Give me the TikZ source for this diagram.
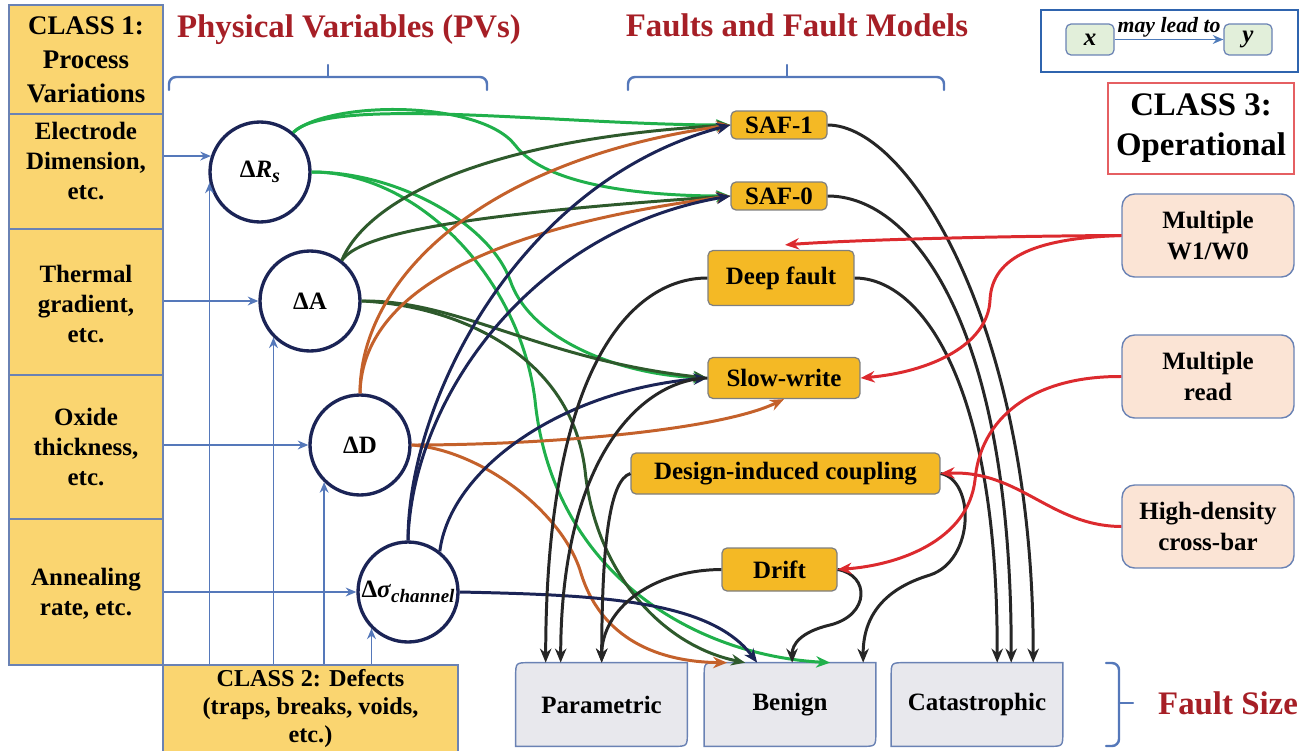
\documentclass[tikz,border=0pt]{standalone}
\usepackage{fontspec}
\setmainfont{Liberation Serif}[BoldFont={Liberation Serif Bold}, ItalicFont={Liberation Serif Italic}, BoldItalicFont={Liberation Serif Bold Italic}]
\usetikzlibrary{arrows.meta,calc}
\pgfdeclarelayer{background}
\pgfsetlayers{background,main}

\definecolor{gold}{HTML}{F4B925}
\definecolor{lightgold}{HTML}{FAD570}
\definecolor{boxedge}{HTML}{6A82B4}
\definecolor{grayfill}{HTML}{E8E8ED}
\definecolor{peach}{HTML}{FBE4D5}
\definecolor{titlered}{HTML}{A61F26}
\definecolor{linkred}{HTML}{DC2A2E}
\definecolor{pvgreen}{HTML}{20B04B}
\definecolor{pvdark}{HTML}{2E5A2C}
\definecolor{pvorange}{HTML}{C4612B}
\definecolor{pvnavy}{HTML}{1B2456}
\definecolor{linkblack}{HTML}{262626}
\definecolor{linkblue}{HTML}{5578BA}
\definecolor{legendblue}{HTML}{2F64AE}
\definecolor{legendfill}{HTML}{E2EFDA}
\definecolor{faultedge}{HTML}{7F7F7F}

\newcommand\fsTitle{\fontsize{18.7pt}{22pt}\selectfont}
\newcommand\fsHead{\fontsize{15.3pt}{19.3pt}\selectfont}
\newcommand\fsRow{\fontsize{14.2pt}{17.3pt}\selectfont}
\newcommand\fsDefect{\fontsize{13.8pt}{15.9pt}\selectfont}
\newcommand\fsOper{\fontsize{18.7pt}{22.7pt}\selectfont}
\newcommand\fsNote{\fontsize{12.4pt}{14pt}\selectfont}

\begin{document}
\begin{tikzpicture}[x=0.02cm,y=-0.02cm,
  c1box/.style={draw=boxedge, line width=0.8pt, fill=lightgold, minimum width=3.08cm, inner sep=0pt},
  rowtext/.style={align=center, font=\fsRow\bfseries, inner sep=0pt},
  fault/.style={draw=faultedge, line width=0.7pt, fill=gold, rounded corners=0.1cm, font=\fsRow\bfseries, inner sep=0pt},
  pv/.style={circle, draw=pvnavy, line width=1.9pt, minimum size=2cm, inner sep=0pt, fill=white, font=\fsRow\bfseries},
  oper/.style={draw=boxedge, line width=0.8pt, fill=peach, rounded corners=0.25cm, minimum width=3.44cm, minimum height=1.66cm, align=center, font=\fsRow\bfseries, inner sep=0pt},
  sizebox/.style={font=\fsRow\bfseries, minimum width=3.42cm, minimum height=1.66cm, inner sep=0pt},
  sizeedge/.style={draw=boxedge, line width=0.8pt, fill=grayfill},
  link/.style={line width=1.7pt, -{Stealth[length=8pt,width=6.5pt]}},
  feed/.style={draw=linkblue, line width=1.1pt, -{Stealth[length=6pt,width=5pt]}},
  heading/.style={font=\fsTitle\bfseries, text=titlered, inner sep=0pt},
  bracket/.style={draw=linkblue, line width=1.4pt, line cap=round, line join=round}
]
\useasboundingbox (0,0) rectangle (1304,750);

% ---- Class 1: process variations ----
\node[c1box, minimum height=2.18cm, align=center, font=\fsHead\bfseries] (c1) at (86,59.5) {CLASS 1:\\Process\\Variations};
\node[c1box, minimum height=2.30cm] (r1) at (86,171.5) {};
\node[c1box, minimum height=2.92cm] (r2) at (86,302) {};
\node[c1box, minimum height=2.88cm] (r3) at (86,447) {};
\node[c1box, minimum height=2.92cm] (r4) at (86,592) {};
\node[rowtext] (r1t) at (86,161) {Electrode\\Dimension,\\etc.};
\node[rowtext] (r2t) at (86,304) {Thermal\\gradient,\\etc.};
\node[rowtext] (r3t) at (86,447) {Oxide\\thickness,\\etc.};
\node[rowtext] (r4t) at (86,594) {Annealing\\rate, etc.};

% ---- Class 2: defects ----
\node[c1box, minimum width=5.9cm, minimum height=1.74cm, align=center, font=\fsDefect\bfseries] (c2) at (310.5,708.5) {CLASS 2: Defects\\(traps, breaks, voids,\\etc.)};

% ---- physical variables ----
\node[pv] (rs) at (260,172) {Δ\textit{R}\raisebox{-3pt}{\fontsize{11.5pt}{12pt}\selectfont\textit{s}}};
\node[pv] (ra) at (310,301) {ΔA};
\node[pv] (rd) at (360,445) {ΔD};
\node[pv] (rc) at (408,592) {Δ\textit{σ}\raisebox{-2.6pt}{\fontsize{10.8pt}{12pt}\selectfont\textit{channel}}};

% ---- faults and fault models ----
\node[fault, minimum width=1.92cm, minimum height=0.56cm] (saf1) at (779,125) {SAF-1};
\node[fault, minimum width=1.92cm, minimum height=0.56cm] (saf0) at (779,196) {SAF-0};
\node[fault, minimum width=2.92cm, minimum height=1.10cm] (deep) at (781,278) {Deep fault};
\node[fault, minimum width=3.04cm, minimum height=0.82cm] (slow) at (784,378) {Slow-write};
\node[fault, minimum width=6.18cm, minimum height=0.82cm] (dic) at (785.5,473.5) {Design-induced coupling};
\node[fault, minimum width=2.30cm, minimum height=0.86cm] (drift) at (779.5,569.5) {Drift};

% ---- fault size ----
\node[sizebox] (par) at (601.5,704.5) {Parametric};
\node[sizebox] (ben) at (790,704.5) {Benign};
\node[sizebox] (cat) at (977,704.5) {Catastrophic};
\begin{pgfonlayer}{background}
  \foreach \b in {par,ben,cat}{
    \path[sizeedge] (\b.south west) -- ($(\b.north west)+(0,14)$) .. controls (\b.north west) .. ($(\b.north west)+(14,0)$)
      -- (\b.north east) -- ($(\b.south east)+(0,-14)$) .. controls (\b.south east) .. ($(\b.south east)+(-14,0)$) -- cycle;
  }
\end{pgfonlayer}

% ---- Class 3: operational ----
\node[draw=linkred!75, line width=0.8pt, minimum width=3.72cm, minimum height=1.82cm, align=center, font=\fsOper\bfseries, inner sep=0pt] (c3) at (1201,128.5) {CLASS 3:\\Operational};
\node[oper] (mw) at (1208,235.5) {Multiple\\W1/W0};
\node[oper] (mr) at (1208,376.5) {Multiple\\read};
\node[oper] (hd) at (1208,526.5) {High-density\\cross-bar};

% ---- legend ----
\node[draw=legendblue, line width=1.6pt, minimum width=5.14cm, minimum height=1.24cm, inner sep=0pt] (lg) at (1169.5,41) {};
\node[draw=boxedge, line width=0.7pt, fill=legendfill, rounded corners=0.1cm, minimum width=0.96cm, minimum height=0.62cm, font=\fsRow\bfseries\itshape, inner sep=0pt] (lx) at (1090,39.5) {x};
\node[draw=boxedge, line width=0.7pt, fill=legendfill, rounded corners=0.1cm, minimum width=0.96cm, minimum height=0.62cm, font=\fsRow\bfseries\itshape, inner sep=0pt] (ly) at (1248,39.5) {y};
\draw[draw=legendblue!85!white, line width=1.1pt, -{Stealth[length=6pt,width=5pt]}] (lx.east) -- (ly.west)
  node[midway, above, inner sep=0.5pt, font=\fsNote\bfseries\itshape] (lbl) {may lead to};

% ---- headings and braces ----
\node[heading] (pvt) at (349,30) {Physical Variables (PVs)};
\node[heading] (fft) at (797,25) {Faults and Fault Models};
\node[heading] (fst) at (1228,703) {Fault Size};
\draw[bracket, rounded corners=4pt] (169,90) -- (169,77) -- (487,77) -- (487,90);
\draw[bracket] (328,77) -- (328,65);
\draw[bracket, rounded corners=4pt] (628,90) -- (628,77) -- (944,77) -- (944,90);
\draw[bracket] (787,77) -- (787,65);
\draw[bracket, rounded corners=4pt] (1106,663) -- (1119,663) -- (1119,746) -- (1106,746);
\draw[bracket] (1119,703) -- (1133,703);

% ---- class 1 / class 2 feeding the variables ----
\draw[feed] (r1.east |- rs.162) -- (rs.162);
\draw[feed] (r2.east |- ra.west) -- (ra.west);
\draw[feed] (r3.east |- rd.west) -- (rd.west);
\draw[feed] (r4.east |- rc.west) -- (rc.west);
\draw[feed] (rs.192 |- c2.north) -- (rs.192);
\draw[feed] (ra.225 |- c2.north) -- (ra.225);
\draw[feed] (rd.226 |- c2.north) -- (rd.226);
\draw[feed] (rc.225 |- c2.north) -- (rc.225);

% ---- Delta R_s ----
\draw[link, pvgreen] (rs.50) .. controls (330,95) and (560,125) .. (saf1.west);
\draw[link, pvgreen] (rs.50) .. controls (330,100) and (480,100) .. (515,145) .. controls (545,185) and (640,196) .. (saf0.west);
\draw[link, pvgreen] (rs.east) .. controls (400,172) and (490,225) .. (510,280) .. controls (530,340) and (620,375) .. (slow.west);
\draw[link, pvgreen] (rs.east) .. controls (420,172) and (520,280) .. (535,400) .. controls (552,570) and (690,655) .. ($(ben.north west)+(126,0)$);

% ---- Delta A ----
\draw[link, pvdark] (ra.52) .. controls (365,205) and (470,140) .. (saf1.west);
\draw[link, pvdark] (ra.52) .. controls (360,235) and (450,215) .. (saf0.west);
\draw[link, pvdark] (ra.east) .. controls (460,300) and (540,360) .. (slow.west);
\draw[link, pvdark] (ra.east) .. controls (450,305) and (570,350) .. (585,470) .. controls (595,570) and (660,645) .. ($(ben.north west)+(41,0)$);

% ---- Delta D ----
\draw[link, pvorange] (rd.north) .. controls (360,280) and (480,160) .. (saf1.west);
\draw[link, pvorange] (rd.north) .. controls (362,300) and (470,230) .. (saf0.west);
\draw[link, pvorange] (rd.east) .. controls (550,445) and (720,430) .. (slow.south);
\draw[link, pvorange] (rd.east) .. controls (480,450) and (560,510) .. (580,570) .. controls (600,640) and (660,662) .. ($(ben.north west)+(23,0)$);

% ---- Delta sigma_channel ----
\draw[link, pvnavy] (rc.north) .. controls (408,400) and (520,180) .. (saf1.west);
\draw[link, pvnavy] (rc.north) .. controls (412,400) and (530,230) .. (saf0.west);
\draw[link, pvnavy] (rc.52) .. controls (450,470) and (560,390) .. (slow.west);
\draw[link, pvnavy] (rc.east) .. controls (600,595) and (710,600) .. ($(ben.north west)+(53,0)$);

% ---- fault models to fault size ----
\draw[link, linkblack] (deep.west) .. controls (630,278) and (546,370) .. ($(par.north west)+(30,0)$);
\draw[link, linkblack] (slow.west) .. controls (640,380) and (561,460) .. ($(par.north west)+(45,0)$);
\draw[link, linkblack] (dic.west) .. controls (610,480) and (602,540) .. ($(par.north west)+(86,0)$);
\draw[link, linkblack] (drift.west) .. controls (650,570) and (602,610) .. ($(par.north west)+(86,0)$);
\draw[link, linkblack] (saf1.east) .. controls (910,125) and (1034,330) .. ($(cat.north west)+(142,0)$);
\draw[link, linkblack] (saf0.east) .. controls (915,196) and (1012,330) .. ($(cat.north west)+(120,0)$);
\draw[link, linkblack] (deep.east) .. controls (920,278) and (998,380) .. ($(cat.north west)+(106,0)$);
\draw[link, linkblack] (dic.east) .. controls (975,480) and (975,560) .. (930,575) .. controls (880,590) and (863,620) .. ($(ben.north west)+(159,0)$);
\draw[link, linkblack] (drift.east) .. controls (870,575) and (870,615) .. (830,625) .. controls (800,632) and (792,645) .. ($(ben.north west)+(88,0)$);

% ---- operational conditions ----
\draw[link, linkred] (mw.west) .. controls (1000,236) and (850,240) .. ($(deep.north)+(4,-5)$);
\draw[link, linkred] (mw.west) .. controls (1040,238) and (992,255) .. (990,300) .. controls (988,345) and (930,372) .. (slow.east);
\draw[link, linkred] (mr.west) .. controls (1030,376) and (980,420) .. (975,480) .. controls (968,540) and (900,565) .. (drift.east);
\draw[link, linkred] (hd.west) .. controls (1050,526) and (1020,470) .. (dic.east);
\end{tikzpicture}
\end{document}
